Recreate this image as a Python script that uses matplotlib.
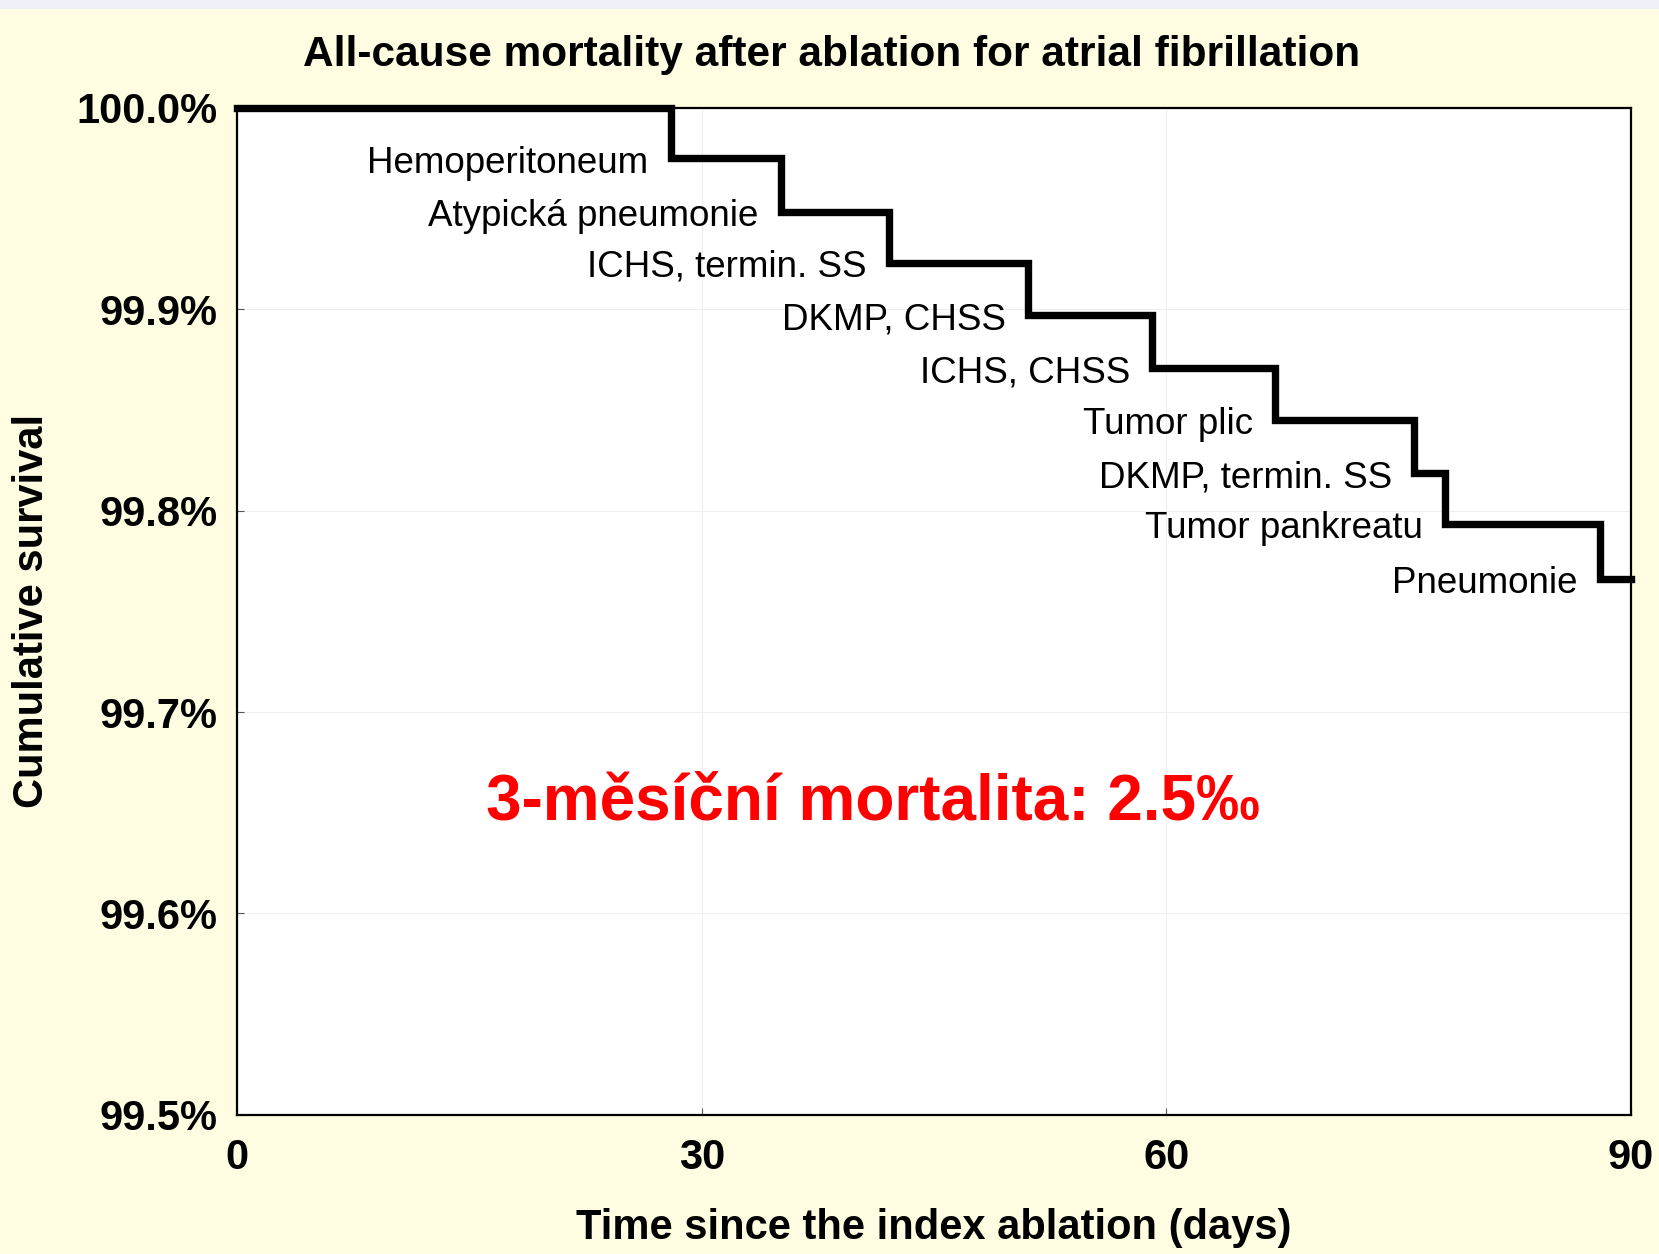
import numpy as np
import matplotlib
matplotlib.use('Agg')
import matplotlib.pyplot as plt
from matplotlib.patches import Rectangle

plt.rcParams['font.family'] = ['Liberation Sans', 'DejaVu Sans']

# Kaplan-Meier steps (days, survival %)
event_days = [28.0, 35.1, 42.1, 51.1, 59.1, 67.05, 76.0, 78.0, 88.0]
survival = [99.975, 99.9485, 99.9232, 99.897, 99.8707, 99.845, 99.8186, 99.7934, 99.766]
causes = ['Hemoperitoneum', 'Atypická pneumonie', 'ICHS, termin. SS', 'DKMP, CHSS',
          'ICHS, CHSS', 'Tumor plic', 'DKMP, termin. SS', 'Tumor pankreatu', 'Pneumonie']

y_ticks = [99.5, 99.6, 99.7, 99.8, 99.9, 100.0]
x_ticks = [0, 30, 60, 90]

bg = '#fefde1'
fig = plt.figure(figsize=(16.59, 12.54), dpi=100, facecolor=bg)
# thin bluish strip at the very top of the slide
fig.patches.append(Rectangle((0, 1 - 9 / 1254), 1, 9 / 1254, transform=fig.transFigure,
                             facecolor='#eef0f8', edgecolor='none'))

ax = fig.add_axes([0.143, 0.111, 0.840, 0.803])
ax.set_facecolor('white')

xs = [0] + event_days + [90]
ys = [100.0] + survival + [survival[-1]]
ax.plot(xs, ys, drawstyle='steps-post', color='black', lw=5.3, clip_on=False,
        solid_joinstyle='miter', zorder=5)

for d, s, c in zip(event_days, survival, causes):
    ax.annotate(c, xy=(d, s), xytext=(-16, -3.5), textcoords='offset points',
                ha='right', va='center', fontsize=26.5, color='black')

ax.set_xlim(0, 90)
ax.set_ylim(99.5, 100.0)
ax.set_xticks(x_ticks)
ax.set_yticks(y_ticks)
ax.set_yticklabels([f'{v:.1f}%' for v in y_ticks], fontsize=30, fontweight='bold')
ax.set_xticklabels([str(v) for v in x_ticks], fontsize=30, fontweight='bold')
ax.tick_params(axis='both', direction='in', length=5, width=0.8, color='#555555')
ax.tick_params(axis='y', pad=14)
ax.tick_params(axis='x', pad=17)
ax.grid(True, color='#eeeeee', lw=0.8)
ax.set_axisbelow(True)
for sp in ax.spines.values():
    sp.set_linewidth(1.6)
    sp.set_color('black')

ax.set_xlabel('Time since the index ablation (days)', fontsize=30, fontweight='bold', labelpad=21)
ax.set_ylabel('Cumulative survival', fontsize=30, fontweight='bold', labelpad=18)

fig.text(0.5015, 0.956, 'All-cause mortality after ablation for atrial fibrillation',
         ha='center', va='center', fontsize=30.5, fontweight='bold')

ax.text(0.456, 0.310, '3-měsíční mortalita: 2.5‰', transform=ax.transAxes,
        ha='center', va='center', fontsize=46, fontweight='bold', color='#ff0000')

fig.savefig('out.png', dpi=100, facecolor=bg)
